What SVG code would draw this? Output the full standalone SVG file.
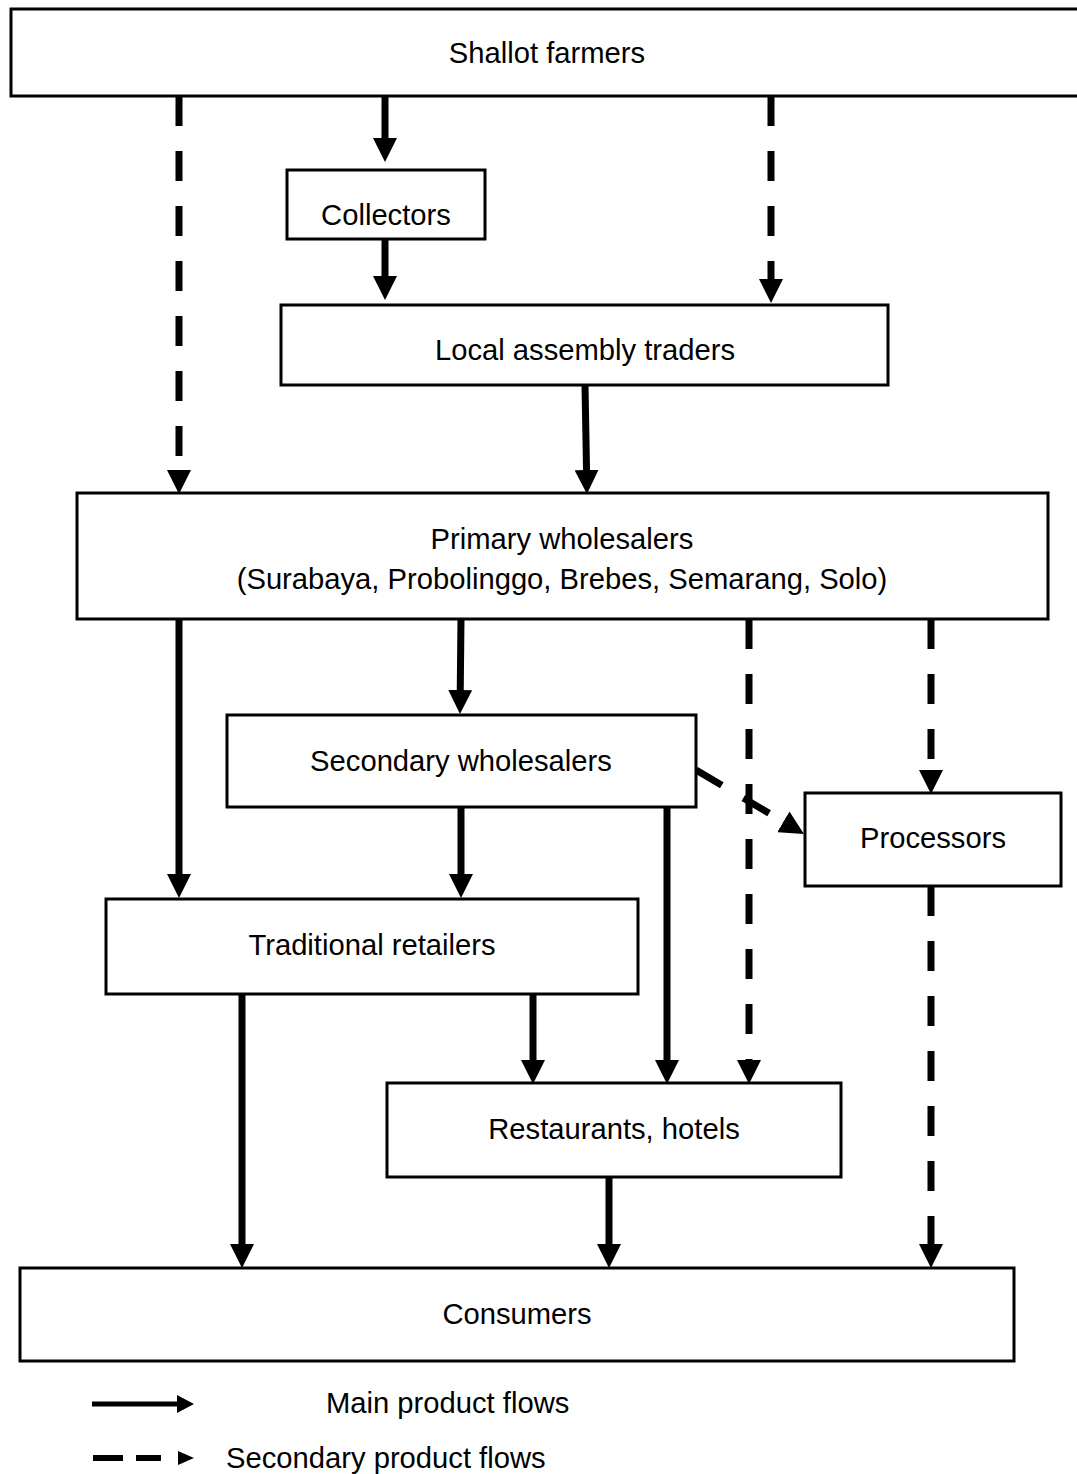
<svg xmlns="http://www.w3.org/2000/svg" width="1077" height="1474" viewBox="0 0 1077 1474">
<style>
.box{fill:#fff;stroke:#000;stroke-width:3}
.t{font-family:"Liberation Sans",Arial,sans-serif;font-size:29.2px;text-anchor:middle;fill:#000}
.tl{font-family:"Liberation Sans",Arial,sans-serif;font-size:29.2px;fill:#000}
.m{stroke:#000;stroke-width:7;fill:none;marker-end:url(#ah)}
.d{stroke:#000;stroke-width:7;fill:none;stroke-dasharray:30 25;marker-end:url(#ah)}
</style>
<defs>
<marker id="ah" markerUnits="userSpaceOnUse" markerWidth="24" markerHeight="24" viewBox="0 0 24 24" refX="4" refY="12" orient="auto">
<path d="M0,0 L24,12 L0,24 z" fill="#000"/>
</marker>
</defs>
<g id="connectors">
<line class="m" x1="385" y1="96" x2="385" y2="142"/>
<line class="m" x1="385" y1="239" x2="385" y2="280"/>
<line class="d" x1="771" y1="96" x2="771" y2="283"/>
<line class="d" x1="179" y1="96" x2="179" y2="474"/>
<line class="m" x1="585" y1="385" x2="586.6" y2="474"/>
<line class="m" x1="461" y1="619" x2="460.2" y2="694"/>
<line class="m" x1="179" y1="619" x2="179" y2="878"/>
<line class="d" x1="749" y1="619" x2="749" y2="1064"/>
<line class="d" x1="931" y1="619" x2="931" y2="774"/>
<line class="d" x1="696" y1="770" x2="786.8" y2="823.8"/>
<line class="m" x1="461" y1="807" x2="461" y2="878"/>
<line class="m" x1="667" y1="807" x2="667" y2="1064"/>
<line class="m" x1="533" y1="994" x2="533" y2="1064"/>
<line class="m" x1="242" y1="994" x2="242" y2="1248"/>
<line class="m" x1="609" y1="1177" x2="609" y2="1248"/>
<line class="d" x1="931" y1="886" x2="931" y2="1248"/>
</g>
<g id="farmers"><rect class="box" x="11" y="9" width="1070" height="87"/><text class="t" x="547" y="63">Shallot farmers</text></g>
<g id="collectors"><rect class="box" x="287" y="170" width="198" height="69"/><text class="t" x="386" y="225">Collectors</text></g>
<g id="local"><rect class="box" x="281" y="305" width="607" height="80"/><text class="t" x="585" y="360">Local assembly traders</text></g>
<g id="primary"><rect class="box" x="77" y="493" width="971" height="126"/><text class="t" x="562" y="549">Primary wholesalers</text><text class="t" x="562" y="589">(Surabaya, Probolinggo, Brebes, Semarang, Solo)</text></g>
<g id="secondary"><rect class="box" x="227" y="715" width="469" height="92"/><text class="t" x="461" y="771">Secondary wholesalers</text></g>
<g id="processors"><rect class="box" x="805" y="793" width="256" height="93"/><text class="t" x="933" y="848">Processors</text></g>
<g id="traditional"><rect class="box" x="106" y="899" width="532" height="95"/><text class="t" x="372" y="955">Traditional retailers</text></g>
<g id="restaurants"><rect class="box" x="387" y="1083" width="454" height="94"/><text class="t" x="614" y="1139">Restaurants, hotels</text></g>
<g id="consumers"><rect class="box" x="20" y="1268" width="994" height="93"/><text class="t" x="517" y="1324">Consumers</text></g>
<g id="legend">
<line x1="92" y1="1404" x2="180" y2="1404" style="stroke:#000;stroke-width:5"/>
<polygon points="177,1395 194,1404 177,1413" fill="#000"/>
<text class="tl" x="326" y="1413">Main product flows</text>
<line x1="93" y1="1458" x2="161" y2="1458" style="stroke:#000;stroke-width:6;stroke-dasharray:30 13"/>
<polygon points="178,1451 194,1458 178,1465" fill="#000"/>
<text class="tl" x="226" y="1468">Secondary product flows</text>
</g>
</svg>
